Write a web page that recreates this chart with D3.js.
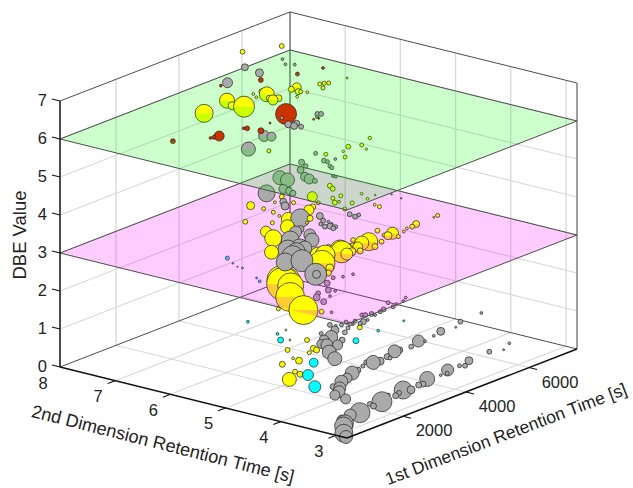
<!DOCTYPE html>
<html><head><meta charset="utf-8">
<script src="https://cdn.jsdelivr.net/npm/d3@7/dist/d3.min.js"></script>
<style>html,body{margin:0;padding:0;background:#fff}svg{display:block}text{font-family:"Liberation Sans",Arial,sans-serif;fill:#222}</style>
</head><body><div id="c"></div>
<script>
// rows: [1st dim time (s), 2nd dim time (s), DBE, peak volume]
const yellowPeaks=[
[5720,7.12,7,6],[4950,7.39,7,6],
[3290,7.14,6,81],[4210,7.25,6,56],[4020,7.05,6,16],[4120,6.89,6,110],[5020,6.99,6,56],[5090,7.12,6,9],[4810,6.76,6,25],[4970,6.75,6,12],[4850,6.85,6,9],[5740,6.86,6,20],[5570,6.86,6,9],[5540,6.72,6,9],[5570,6.69,6,4],[5620,6.6,6,2],[5280,6.59,6,2],[4870,7.15,6,2],[4740,7.02,6,2],[2210,5.35,6,4],[6190,6.70,6,4],[6280,6.67,6,4],[6350,6.63,6,4],[6030,6.55,6,4],[6830,6.57,6,1],
[5310,5.68,5,6],[6010,5.69,5,3],[5560,5.58,5,4],[5410,5.41,5,1.5],[5010,5.60,5,1.5],[4750,5.42,5,4],[4650,5.71,5,4],[2360,4.65,5,25],[3130,4.77,5,6],[3010,4.65,5,6],[2760,4.36,5,4],[2540,4.03,5,4],[3120,4.19,5,2],[2940,3.98,5,2],[2540,4.38,5,4],[2340,4.23,5,6],[2440,4.21,5,2],[2130,4.41,5,4],[2150,3.94,5,4],[2730,3.73,5,2],[2690,3.62,5,4],
[3050,6.16,4,16],[2180,5.76,4,6],[3060,5.93,4,4],[3000,5.72,4,4],[2890,5.55,4,2],[2460,5.43,4,4],[3880,6.07,4,6],[3520,5.99,4,2],[3730,5.77,4,4],[3550,5.39,4,25],[3760,5.44,4,9],[2830,5.35,4,49],[2450,5.15,4,49],[1940,5.25,4,30],[1700,4.98,4,72],[980,4.60,4,49],[3150,5.14,4,9],[2890,5.05,4,2],
[1440,4.65,3,272],[1580,4.66,3,196],[1430,4.51,3,169],[1610,4.79,3,196],[870,4.20,3,210],[380,3.68,3,210],[2950,4.81,3,169],[3320,5.09,3,64],[3400,5.01,3,100],[3840,4.99,3,100],[3770,4.92,3,121],[3890,5.09,3,25],[3920,4.92,3,49],[3900,4.81,3,16],[3720,4.80,3,36],[4500,5.13,3,6],[4040,4.74,3,9],[4440,4.70,3,9],[3860,5.21,3,6],[2810,4.59,3,16],[2540,4.46,3,9],[4910,5.06,3,4],[4610,4.91,3,81],[4460,4.95,3,49],[4210,4.88,3,25],[4140,4.94,3,16],[5330,4.89,3,36],[5150,4.87,3,16],[5270,5.13,3,6],[6080,4.89,3,12],[5900,4.86,3,6],[5750,4.87,3,2],[5550,4.81,3,2],[5230,4.73,3,4],[5130,4.93,3,4],[4770,4.77,3,6],[6780,4.90,3,4],[6640,4.89,3,1],[520,3.43,3,6],
[3930,6.16,1,4],
[2440,5.11,0,49],[3500,5.54,0,12],[3110,5.62,0,9],[3890,5.97,0,6],[4020,5.65,0,4],[4630,6.04,0,6],[4290,5.73,0,9],[4250,5.65,0,9],[2900,5.27,0,6],[2830,5.14,0,9],[3540,5.67,0,2],[4420,6.23,0,1],[4870,6.56,0,1],[5920,5.82,0,6]
];
const cyanPeaks=[
[3940,7.09,2,4],[3750,6.88,2,.7],[3630,6.73,2,.4],[3630,6.64,2,1],[3310,6.20,2,1],[3180,6.07,2,2],[2910,6.13,1,2],
[2390,4.62,0,36],[2890,5.03,0,30],[3580,5.32,0,20],[4300,6.33,0,9],[4570,6.54,0,2],[5200,5.48,0,9],[5980,5.52,0,2],[6790,5.52,0,1]
];
const redPeaks=[
[3760,6.38,7,6],[2980,6.66,7,2],[2370,5.13,7,110],[440,5.24,7,25],[420,5.26,7,9],[235,5.28,7,2],[310,5.26,7,4],[1170,5.15,7,6],[1130,5.19,7,2],[1220,4.93,7,9],[1720,5.05,7,1],
[1510,6.69,6,6],[7030,7.12,6,2],[6410,7.23,6,4],[4350,5.76,6,1],[4460,5.73,6,1]
];
const grayPeaks=[
[4200,6.92,7,12],[4100,6.6,7,16],[3210,6.67,7,25],[1880,4.81,7,12],[1870,4.70,7,12],[1920,4.60,7,6],[2040,4.75,7,9],[2130,5.07,7,3],
[2050,5.63,6,49],[2900,5.83,6,30],[2960,5.73,6,20],[6970,7.82,6,2],[6750,7.64,6,2],[6850,7.53,6,2],[4660,5.87,6,6],[4710,5.83,6,6],[4490,5.78,6,2],
[1960,5.25,5,72],[2890,5.40,5,49],[2910,5.55,5,49],[2390,5.19,5,20],[2360,5.07,5,12],[2290,4.96,5,9],[3950,5.75,5,9],[3550,5.54,5,12],[3820,5.60,5,5],[3270,5.30,5,20],[3210,5.19,5,25],[3180,5.07,5,6],[4570,5.85,5,4],[4310,5.55,5,6],[4300,5.48,5,4],[4110,5.33,5,4],[4050,5.26,5,4],[4530,5.47,5,2],[3650,5.01,5,2],[3650,4.96,5,2],[3220,4.00,5,.6],[3460,3.84,5,.6],[3380,3.62,5,.6],
[3030,5.25,4,90],[3650,5.91,4,12],[3460,5.77,4,16],[1820,4.74,4,81],[1290,4.48,4,100],[1540,4.41,4,81],[2290,4.91,4,36],[660,4.17,4,81],[1310,4.34,4,81],[930,4.02,4,121],[1020,4.24,4,121],[420,3.48,4,121],[425,3.48,4,49],[430,3.47,4,16],[435,3.47,4,4],[2090,4.50,4,49],[2320,4.67,4,36],[1600,4.35,4,49],[2500,4.94,4,12],[3390,5.10,4,12],[3200,4.93,4,6],[3000,4.86,4,4],[2920,4.74,4,6],[3010,4.70,4,9],[2940,4.60,4,6],[3050,4.62,4,4],[3210,4.84,4,2],[3140,4.74,4,2],[3850,4.82,4,6],[3790,4.69,4,6],[3920,4.70,4,4],
[4170,3.99,2,2],[3970,3.92,2,2],[3740,3.91,2,2],[3560,3.87,2,4],[3700,4.04,2,4],[3310,3.90,2,6],[3150,3.87,2,4],[2930,3.90,2,6],[2800,3.94,2,6],[2760,3.98,2,4],[2440,3.77,2,9],[2320,3.76,2,4],[2580,3.77,2,2],[2920,3.83,2,2],[2370,3.88,2,4],[2160,3.85,2,4],[4270,5.36,2,4],[4440,5.28,2,2],[4690,5.24,2,2],[3920,5.27,2,9],[3590,5.06,2,9],[3300,5.08,2,6],[3080,4.98,2,12],[2950,4.78,2,9],[2520,4.39,2,2],[3310,4.87,2,2],[3630,4.96,2,2],
[6240,3.80,1,2],
[420,2.97,0,81],[260,2.84,0,42],[780,3.18,0,81],[930,3.24,0,72],[1060,3.37,0,25],[1410,3.42,0,36],[1650,3.38,0,100],[2150,3.42,0,9],[2210,3.52,0,6],[2470,3.45,0,100],[2880,3.57,0,4],[2940,3.47,0,9],[3120,3.51,0,6],[3320,3.55,0,81],[3430,3.47,0,16],[3760,3.52,0,9],[3860,3.50,0,9],[4170,3.60,0,56],[4870,3.63,0,36],[4700,3.54,0,4],[4530,3.56,0,2],[5230,3.62,0,4],[5300,3.56,0,6],[5600,3.66,0,16],[6300,3.69,0,6],[6580,3.59,0,1],[6970,3.71,0,2],
[2160,3.93,0,25],[2220,4.16,0,25],[2440,4.21,0,36],[2640,4.31,0,36],[2970,4.47,0,42],[2620,4.42,0,9],[3220,4.51,0,25],[3540,4.60,0,49],[3760,4.62,0,9],[4020,4.68,0,4],[4330,4.67,0,49],[4250,4.75,0,6],[4480,4.63,0,16],[4790,4.68,0,9],[4760,4.61,0,4],[5150,4.75,0,42],[5280,4.73,0,9],[5590,4.70,0,6],[5960,4.78,0,36],[6030,4.70,0,2],[6410,4.76,0,2],[6720,4.81,0,16],[7110,4.76,0,1],[7450,4.87,0,6],
[4040,5.20,0,49],[4300,5.45,0,49],[4610,5.77,0,20],[4630,5.68,0,36],[4760,5.56,0,25],[4840,5.85,0,25],[5060,5.65,0,9],[5080,5.86,0,42],[5480,6.02,0,16],[5130,6.07,0,4],[5480,5.84,0,6],[5670,6.22,0,6],[6010,6.12,0,4],[5810,6.09,0,4],[6000,5.99,0,2],[5700,6.13,0,2],[5740,5.93,0,4]
];
const t1Ticks=[2000,4000,6000];
const t2Ticks=[8,7,6,5,4,3];
const dbeTicks=[0,1,2,3,4,5,6,7];
const planeLevels=[3,6];

const W=633,H=488;
const t1Dom=[222,7524],t2Dom=[8,2.8],dbeDom=[0,7];
const ox=60,oy=367;
const t1X=d3.scaleLinear(t1Dom,[0,230]),t1Y=d3.scaleLinear(t1Dom,[0,-89]);
const t2X=d3.scaleLinear(t2Dom,[0,287]),t2Y=d3.scaleLinear(t2Dom,[0,71]);
const dbeY=d3.scaleLinear(dbeDom,[0,-266]);
const rad=d3.scaleSqrt([0,100],[0,10]);
const P=(t1,t2,z)=>[ox+t1X(t1)+t2X(t2),oy+t1Y(t1)+t2Y(t2)+dbeY(z)];
const svg=d3.select("#c").append("svg").attr("width",W).attr("height",H);
const line=(g,a,b,col,w)=>g.append("line").attr("x1",a[0]).attr("y1",a[1]).attr("x2",b[0]).attr("y2",b[1]).attr("stroke",col).attr("stroke-width",w);
const [t1a,t1b]=t1Dom,[t2a,t2b]=t2Dom,zt=dbeDom[1];

// grid
const grid=svg.append("g"),gc="#d9d9d9";
t1Ticks.forEach(t=>{line(grid,P(t,t2a,0),P(t,t2a,zt),gc,1.3);line(grid,P(t,t2a,0),P(t,t2b,0),gc,1.1);});
t2Ticks.filter(t=>t<8).forEach(t=>{line(grid,P(t1b,t,0),P(t1b,t,zt),gc,1.3);line(grid,P(t1a,t,0),P(t1b,t,0),gc,1.1);});
dbeTicks.filter(z=>z>0&&z<7).forEach(z=>{line(grid,P(t1a,t2a,z),P(t1b,t2a,z),gc,1.1);line(grid,P(t1b,t2a,z),P(t1b,t2b,z),gc,1.1);});

// box
const box=svg.append("g"),ec="#4d4d4d";
line(box,P(t1a,t2a,zt),P(t1b,t2a,zt),ec,1);
line(box,P(t1b,t2a,zt),P(t1b,t2b,zt),ec,1);
line(box,P(t1b,t2a,0),P(t1b,t2a,zt),ec,1.2);
line(box,P(t1b,t2b,0),P(t1b,t2b,zt),"#888",1.6);
line(box,P(t1a,t2a,0),P(t1b,t2a,0),ec,1);
line(box,P(t1b,t2a,0),P(t1b,t2b,0),ec,1);

// marks
const seriesDefs=[[yellowPeaks,"#ffff00"],[cyanPeaks,"#00ffff"],[grayPeaks,"#aaaaaa"],[redPeaks,"#cc3300"]];
const marks=seriesDefs.flatMap(([rows,c])=>rows.map(r=>({t1:r[0],t2:r[1],z:r[2],v:r[3],c})));
const depth=m=>(m.t1-t1a)/(t1b-t1a)*0.55+(m.t2-t2b)/(t2a-t2b);
const planeColor={3:"#ff00ff",6:"#00ff00"};
const corners=z=>[P(t1a,t2a,z),P(t1b,t2a,z),P(t1b,t2b,z),P(t1a,t2b,z)];
const defs=svg.append("defs");
planeLevels.forEach(z=>defs.append("clipPath").attr("id","clip"+z).append("polygon").attr("points",corners(z).join(" ")));
function drawMarks(sel){
  const g=svg.append("g");
  sel.sort((a,b)=>depth(b)-depth(a)).forEach(m=>{
    const [x,y]=P(m.t1,m.t2,m.z),r=rad(m.v);
    g.append("circle").attr("cx",x).attr("cy",y).attr("r",r).attr("fill",m.c).attr("stroke","#2b2b2b").attr("stroke-width",0.75);
    if(planeLevels.includes(m.z)){
      g.append("g").attr("clip-path",`url(#clip${m.z})`).append("path")
       .attr("d",`M${x-r-.4},${y}A${r+.4},${r+.4} 0 0 0 ${x+r+.4},${y}Z`)
       .attr("fill",planeColor[m.z]).attr("fill-opacity",0.2);
    }
  });
}
function drawPlane(z){
  svg.append("polygon").attr("points",corners(z).join(" ")).attr("fill",planeColor[z]).attr("fill-opacity",0.2)
   .attr("stroke","#4d4d4d").attr("stroke-width",1);
}
drawMarks(marks.filter(m=>m.z<3));
drawPlane(3);
drawMarks(marks.filter(m=>m.z>=3&&m.z<6));
drawPlane(6);
drawMarks(marks.filter(m=>m.z>=6));

// axes
const ax=svg.append("g"),ac="#111";
line(ax,P(t1a,t2a,0),P(t1a,t2a,zt),ac,1.5);
line(ax,P(t1a,t2a,0),P(t1a,t2b,0),ac,1.5);
line(ax,P(t1a,t2b,0),P(t1b,t2b,0),ac,1.5);
const label=(x,y,s,size,anchor,rot)=>{
  const t=ax.append("text").attr("font-size",size).attr("text-anchor",anchor||"middle").attr("dominant-baseline","central").text(s);
  t.attr("transform",`translate(${x},${y})`+(rot?` rotate(${rot})`:""));
};
dbeTicks.forEach(z=>{const p=P(t1a,t2a,z);line(ax,p,[p[0]-8,p[1]-2],ac,1.1);label(p[0]-13,p[1]-1,z,16.5,"end");});
t2Ticks.forEach(t=>{const p=P(t1a,t,0);if(t<8)line(ax,p,[p[0]-7.5,p[1]+2.9],ac,1.1);label(p[0]-17,p[1]+15.5,t,16.5);});
t1Ticks.forEach(t=>{const p=P(t,t2b,0);line(ax,p,[p[0]+8,p[1]+2],ac,1.1);label(p[0]+31,p[1]+14,t,16.5);});
label(19,235,"DBE Value",18.5,"middle",-90);
label(163,444,"2nd Dimension Retention Time [s]",18,"middle",14.2);
label(506,434,"1st Dimension Retention Time [s]",17.5,"middle",-20.8);
</script></body></html>
